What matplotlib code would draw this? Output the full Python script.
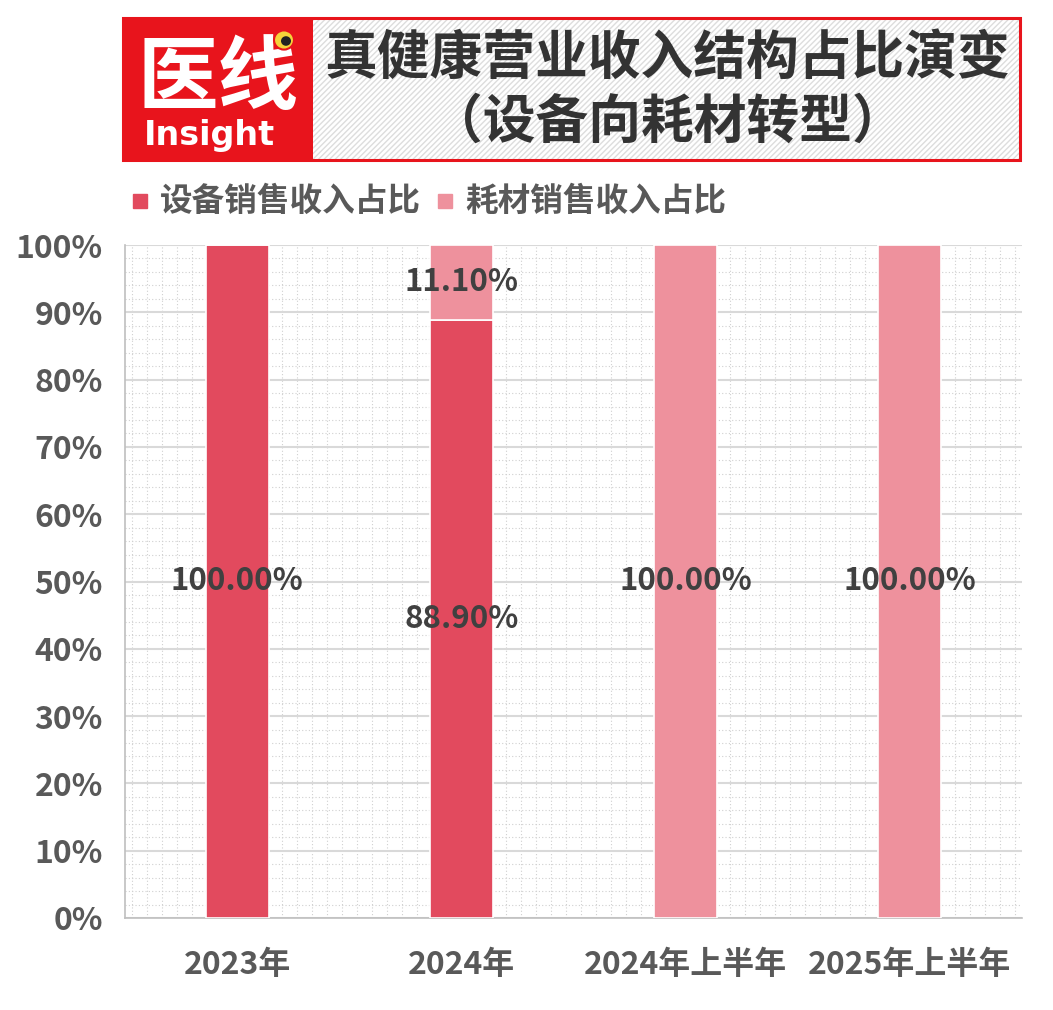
import matplotlib
matplotlib.use("Agg")
import matplotlib.pyplot as plt
from matplotlib.patches import Rectangle, Circle
from matplotlib.ticker import MultipleLocator, FuncFormatter
import numpy as np

plt.rcParams['font.family'] = ['Noto Sans CJK SC', 'DejaVu Sans']

categories = ["2023年", "2024年", "2024年上半年", "2025年上半年"]
equipment = [100.0, 88.9, 0.0, 0.0]
consumables = [0.0, 11.1, 100.0, 100.0]
series_names = ["设备销售收入占比", "耗材销售收入占比"]
title_line1 = "真健康营业收入结构占比演变"
title_line2 = "（设备向耗材转型）"

W, H = 1053, 1010
fig = plt.figure(figsize=(W / 100, H / 100), dpi=100)
fig.patch.set_facecolor("white")

def fx(x):
    return x / W

def fy(y):
    return 1 - y / H

c_eq = "#E24A5E"
c_co = "#EE919D"
txt = "#404040"
tick_c = "#595959"

ax = fig.add_axes([fx(125), fy(918), fx(1022) - fx(125), fy(245) - fy(918)])
x = np.arange(len(categories))
bw = 0.28
ax.bar(x, equipment, bw, color=c_eq, edgecolor="white", linewidth=1.2, zorder=3)
ax.bar(x, consumables, bw, bottom=equipment, color=c_co, edgecolor="white", linewidth=1.2, zorder=3)

for i in range(len(categories)):
    if equipment[i] > 0:
        ax.text(x[i], equipment[i] / 2, f"{equipment[i]:.2f}%", ha="center", va="center",
                fontsize=22.5, fontweight="bold", color=txt, zorder=5)
    if consumables[i] > 0:
        ax.text(x[i], equipment[i] + consumables[i] / 2, f"{consumables[i]:.2f}%", ha="center",
                va="center", fontsize=22.5, fontweight="bold", color=txt, zorder=5)

ax.set_xlim(-0.5, len(categories) - 0.5)
ax.set_ylim(0, 100)
ax.yaxis.set_major_locator(MultipleLocator(10))
ax.yaxis.set_minor_locator(MultipleLocator(2))
ax.xaxis.set_minor_locator(MultipleLocator(1 / 15))
ax.yaxis.set_major_formatter(FuncFormatter(lambda v, p: f"{int(round(v))}%"))
ax.set_xticks(x)
ax.set_xticklabels(categories)
ax.grid(which="major", axis="y", color="#D9D9D9", linewidth=1.5, zorder=1)
ax.grid(which="minor", axis="both", color="#D0D0D0", linewidth=0.8, linestyle=(0, (1, 2)), zorder=0)
ax.tick_params(which="both", length=0)
ax.tick_params(axis="y", labelsize=23, labelcolor=tick_c, pad=16)
ax.tick_params(axis="x", labelsize=23, labelcolor=tick_c, pad=22)
for lab in ax.get_xticklabels() + ax.get_yticklabels():
    lab.set_fontweight("bold")
for s in ["top", "right"]:
    ax.spines[s].set_visible(False)
for s in ["left", "bottom"]:
    ax.spines[s].set_color("#BFBFBF")
    ax.spines[s].set_linewidth(1.2)

# legend
leg_items = [(140, c_eq, series_names[0]), (445, c_co, series_names[1])]
for lx, col, name in leg_items:
    fig.patches.append(Rectangle((fx(lx - 7), fy(208)), fx(14), fy(194) - fy(208),
                                 transform=fig.transFigure, color=col))
    fig.text(fx(lx + 20), fy(201), name, ha="left", va="center", fontsize=23.5,
             fontweight="bold", color=tick_c)

# header
fig.patches.append(Rectangle((fx(313), fy(160)), fx(1020) - fx(313), fy(18) - fy(160),
                             transform=fig.transFigure, facecolor="white", edgecolor="#DDDDDD",
                             hatch="//////", linewidth=0))
fig.patches.append(Rectangle((fx(123), fy(160)), fx(1020) - fx(123), fy(18) - fy(160),
                             transform=fig.transFigure, facecolor="none", edgecolor="#E8141C",
                             linewidth=2.2))
fig.patches.append(Rectangle((fx(123), fy(160)), fx(313) - fx(123), fy(18) - fy(160),
                             transform=fig.transFigure, facecolor="#E8141C", edgecolor="none"))
fig.text(fx(218), fy(80), "医线", ha="center", va="center", fontsize=58, fontweight="bold",
         color="white")
fig.text(fx(209), fy(136), "Insight", ha="center", va="center", fontsize=24, fontweight="bold",
         color="white", family=["DejaVu Sans"])
fig.patches.append(Circle((fx(284), fy(40)), 10 / W, transform=fig.transFigure,
                          facecolor="#F5D33A", edgecolor="#E8141C", linewidth=1.5, zorder=6))
fig.patches.append(Circle((fx(286), fy(41)), 5 / W, transform=fig.transFigure,
                          facecolor="#222222", edgecolor="none", zorder=7))

fig.text(fx(667), fy(58), title_line1, ha="center", va="center", fontsize=38, fontweight="bold",
         color="#333333")
fig.text(fx(667), fy(122), title_line2, ha="center", va="center", fontsize=38, fontweight="bold",
         color="#333333")

fig.savefig("out.png", dpi=100)
